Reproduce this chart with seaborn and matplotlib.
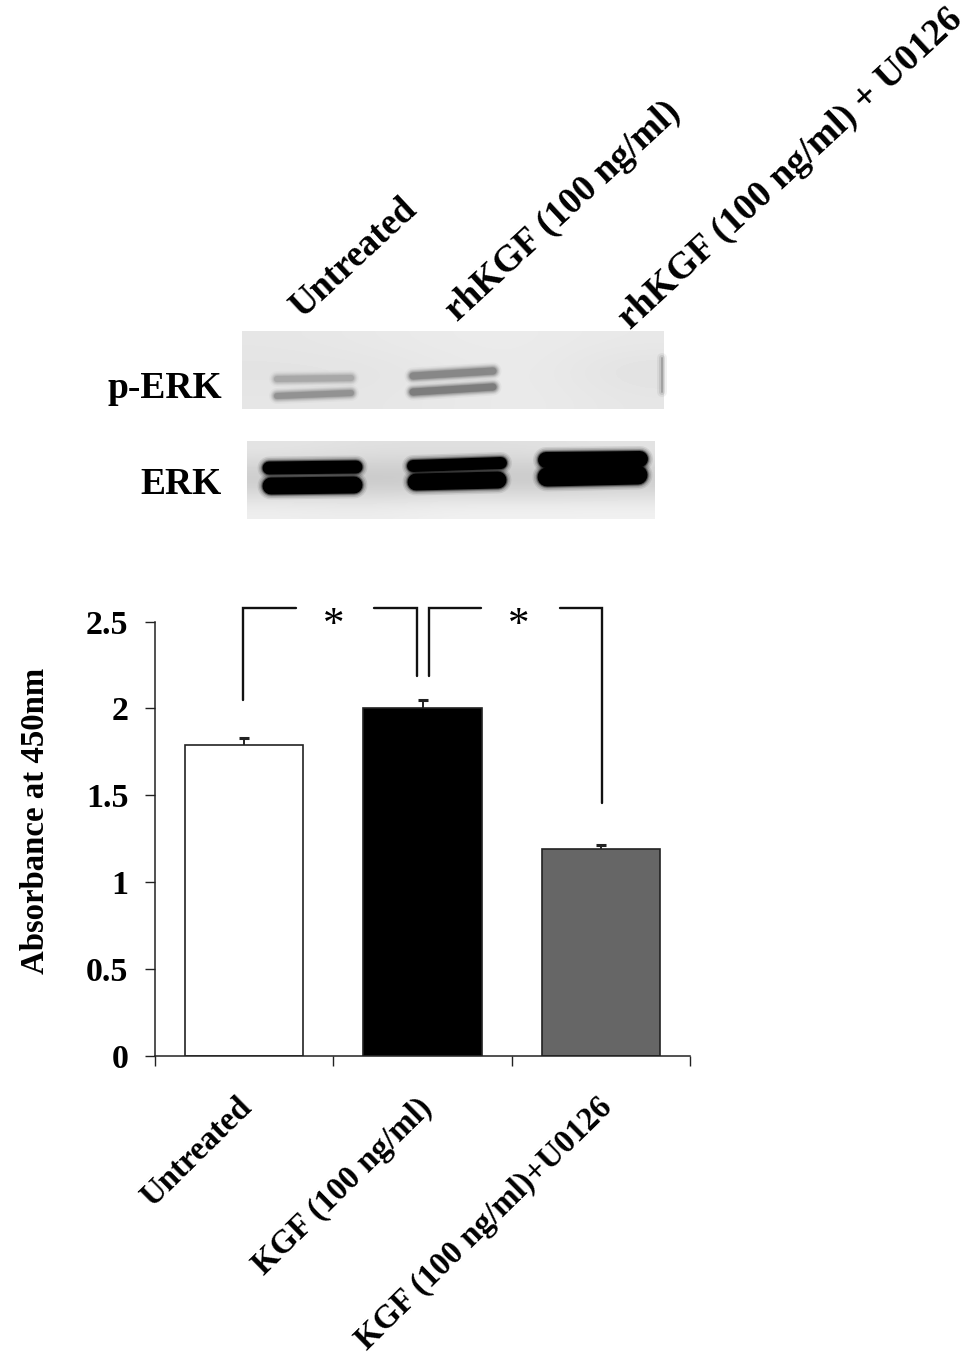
import matplotlib
matplotlib.use("Agg")
import matplotlib.pyplot as plt
import pandas as pd
import seaborn as sns

W, H = 969, 1355

groups = ["Untreated", "KGF (100 ng/ml)", "KGF (100 ng/ml)+U0126"]
absorbance = [1.79, 2.0, 1.19]
errors = [0.04, 0.05, 0.025]
bar_colors = ["#ffffff", "#000000", "#666666"]
y_ticks = [0, 0.5, 1, 1.5, 2, 2.5]
y_labels = ["0", "0.5", "1", "1.5", "2", "2.5"]
blot_labels = ["Untreated", "rhKGF (100 ng/ml)", "rhKGF (100 ng/ml) + U0126"]

# blot bands: x0, y0, x1, y1, thickness, grey (picture pixels)
perk_bands = [
    (277, 379, 351, 378, 6, "#909090"),
    (277, 396, 351, 393, 6, "#707070"),
    (413, 376, 493, 371, 7, "#606060"),
    (413, 392, 493, 387, 7, "#505050"),
]
erk_bands = [
    (269, 468, 356, 467, 13, "#000000"),
    (271, 486, 354, 485, 17, "#000000"),
    (413, 466, 501, 463, 12, "#000000"),
    (416, 482, 498, 480, 17, "#000000"),
    (546, 460, 640, 459, 16, "#000000"),
    (547, 477, 638, 475, 19, "#000000"),
]
perk_bg = [[.90, .91, .92, .92, .91], [.89, .89, .91, .92, .88], [.90, .90, .91, .92, .90]]
erk_bg = [[.90, .88, .88, .88, .90], [.76, .74, .76, .74, .76], [.94, .93, .95, .95, .95]]

sns.set_style("white")
plt.rcParams["font.family"] = ["Liberation Serif", "DejaVu Serif"]
plt.rcParams["font.weight"] = "bold"
plt.rcParams["text.color"] = "black"

fig = plt.figure(figsize=(W / 100, H / 100), dpi=100)

# bar panel
ax = fig.add_axes([155 / W, 1 - 1056 / H, 535 / W, 434.5 / H])
df = pd.DataFrame({"group": groups, "value": absorbance})
sns.barplot(data=df, x="group", y="value", hue="group", palette=bar_colors, dodge=False,
            width=0.665, edgecolor="#222222", linewidth=1.2, legend=False, ax=ax)
eb = ax.errorbar(range(3), absorbance, yerr=[[0, 0, 0], errors], fmt="none", ecolor="#222222",
                 elinewidth=1.4, capsize=3.8, capthick=2.2)
eb[1][0].set_visible(False)  # no cap on the bar top
ax.set_xlim(-0.5, 2.5)
ax.set_ylim(0, 2.5)
ax.set_xticks([-0.5, 0.5, 1.5, 2.5])
ax.set_xticklabels([])
ax.set_yticks(y_ticks)
ax.set_yticklabels(y_labels, fontsize=24.5, fontweight="bold", color="black")
ax.set_xlabel("")
ax.set_ylabel("")
ax.tick_params(axis="both", direction="out", length=7, width=1.0, color="#222222", left=True, bottom=True)
ax.tick_params(axis="y", pad=12)
sns.despine(ax=ax)
for s in ["left", "bottom"]:
    ax.spines[s].set_linewidth(1.1)
    ax.spines[s].set_color("#222222")

# overlay in picture pixels
over = fig.add_axes([0, 0, 1, 1], facecolor="none")
over.set_xlim(0, W)
over.set_ylim(H, 0)
over.axis("off")

for xs, ys in [([243, 243, 296], [700, 608, 608]), ([374, 417, 417], [608, 608, 676]),
               ([429, 429, 481], [676, 608, 608]), ([560, 602, 602], [608, 608, 803])]:
    over.plot(xs, ys, color="#111111", lw=1.7, solid_joinstyle="miter")
for x in [334, 519]:
    over.text(x, 626, "*", fontsize=31, fontweight="normal", ha="center", va="center")

over.text(36, 821, "Absorbance at 450nm", rotation=90, fontsize=23.6, ha="center", va="center")
for x, name in zip([236, 417, 597], groups):
    over.text(x, 1092, name, rotation=44.5, rotation_mode="anchor", ha="right", va="top", fontsize=23.6)
for x, y, fs, name in zip([302, 457, 630], [319, 322, 330], [26.4, 26.7, 27.2], blot_labels):
    over.text(x, y, name, rotation=42.8, rotation_mode="anchor", ha="left", va="baseline", fontsize=fs)
over.text(222, 388, "p-ERK", ha="right", va="center", fontsize=27)
over.text(222, 485, "ERK", ha="right", va="center", fontsize=27)

# blot panels
over.imshow(perk_bg, extent=(242, 664, 409, 331), cmap="gray", vmin=0, vmax=1, interpolation="bicubic", aspect="auto", zorder=1)
over.imshow(erk_bg, extent=(247, 655, 519, 441), cmap="gray", vmin=0, vmax=1, interpolation="bicubic", aspect="auto", zorder=1)
over.set_xlim(0, W)
over.set_ylim(H, 0)
for x0, y0, x1, y1, t, c in perk_bands:
    for extra, a in [(10, 0.06), (7, 0.10), (5, 0.14), (3, 0.2), (1, 0.25), (0, 0.3)]:
        over.plot([x0, x1], [y0, y1], color=c, lw=(t + extra) * 0.72, alpha=a,
                  solid_capstyle="round", zorder=2)
for x0, y0, x1, y1, t, c in erk_bands:
    for extra, a in [(10, 0.08), (7, 0.12), (4, 0.2), (2, 0.4), (0, 1)]:
        over.plot([x0, x1], [y0, y1], color=c, lw=(t + extra) * 0.72, alpha=a,
                  solid_capstyle="round", zorder=2)
for extra, a in [(8, 0.08), (4, 0.14), (0, 0.3)]:
    over.plot([662, 662], [358, 392], color="#555555", lw=(2 + extra) * 0.72, alpha=a, zorder=2)
over.set_xlim(0, W)

fig.savefig("out.png", dpi=100)
